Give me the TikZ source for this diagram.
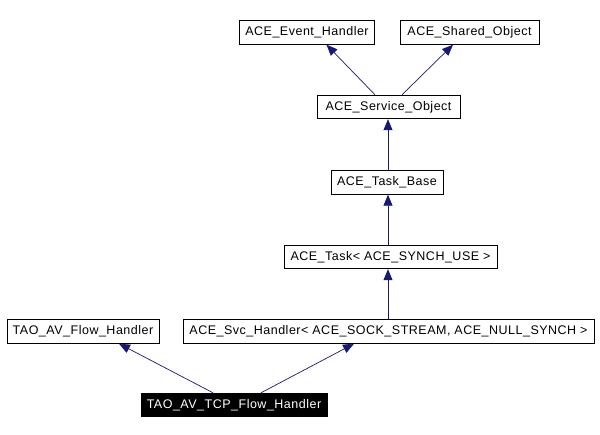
\documentclass[tikz,border=0pt]{standalone}
\usepackage{fontspec}
\setmainfont{Liberation Sans}[LetterSpace=4]
\usetikzlibrary{arrows.meta}
\definecolor{edgeblue}{HTML}{191970}
\begin{document}
\begin{tikzpicture}[x=1pt,y=-1pt,
  cls/.style={draw=black,line width=0.9pt,inner sep=0pt,minimum height=23.5pt,font=\fontsize{12.5}{14}\selectfont,anchor=center},
  cur/.style={cls,fill=black,text=white},
  arr/.style={draw=edgeblue,line width=0.7pt,-{Triangle[length=11pt,width=9pt,fill=edgeblue]}}]
\useasboundingbox (0,0) rectangle (600,435);
\node[cls,minimum width=135pt] (event) at (307,32.5) {ACE\_Event\_Handler};
\node[cls,minimum width=139pt] (shared) at (469.5,32.5) {ACE\_Shared\_Object};
\node[cls,minimum width=143pt] (service) at (388.5,107) {ACE\_Service\_Object};
\node[cls,minimum width=112pt] (taskbase) at (387,182.5) {ACE\_Task\_Base};
\node[cls,minimum width=213pt] (task) at (390.5,257) {ACE\_Task< ACE\_SYNCH\_USE >};
\node[cls,minimum width=152pt] (flow) at (83,331.5) {TAO\_AV\_Flow\_Handler};
\node[cls,minimum width=411pt] (svc) at (388.5,331.5) {ACE\_Svc\_Handler< ACE\_SOCK\_STREAM, ACE\_NULL\_SYNCH >};
\node[cur,minimum width=186pt] (tcp) at (234,405) {TAO\_AV\_TCP\_Flow\_Handler};
\draw[arr] ([xshift=-13.5pt]service.north) -- ([xshift=19.5pt]event.south);
\draw[arr] ([xshift=13.5pt]service.north) -- ([xshift=-16.5pt]shared.south);
\draw[arr] ([xshift=1pt]taskbase.north) -- ([xshift=1pt]taskbase.north |- service.south);
\draw[arr] ([xshift=-2.5pt]task.north) -- ([xshift=-2.5pt]task.north |- taskbase.south);
\draw[arr] ([xshift=-0.5pt]svc.north) -- ([xshift=-0.5pt]svc.north |- task.south);
\draw[arr] ([xshift=-21pt]tcp.north) -- ([xshift=36pt]flow.south);
\draw[arr] ([xshift=27pt]tcp.north) -- ([xshift=-34.5pt]svc.south);
\end{tikzpicture}
\end{document}
